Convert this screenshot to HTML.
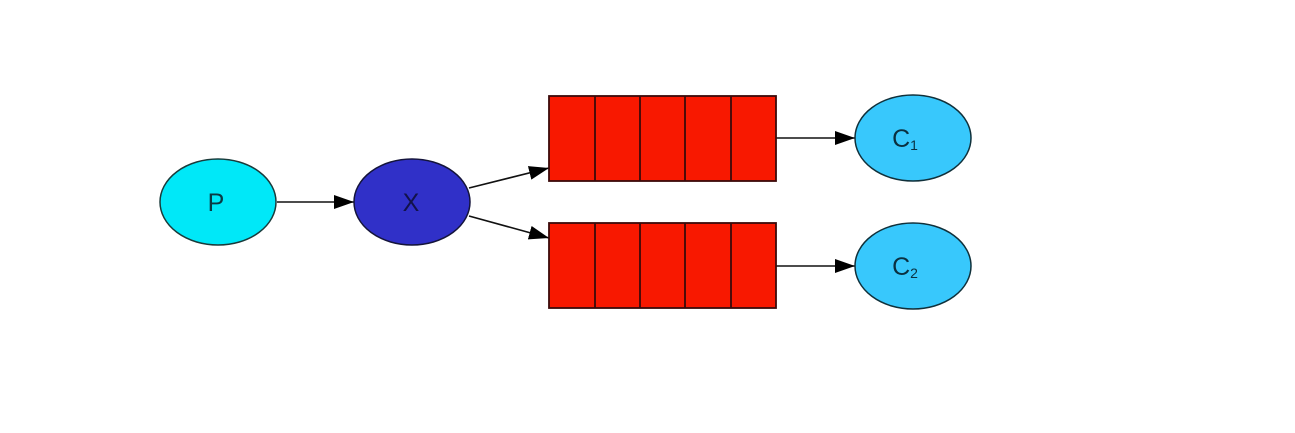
<!DOCTYPE html>
<html><head><meta charset="utf-8"><style>
html,body{margin:0;padding:0;background:#fff;}
svg{display:block;}
text{font-family:"Liberation Sans","DejaVu Sans",sans-serif;}
</style></head><body>
<svg width="1295" height="433" viewBox="0 0 1295 433">
<defs>
<marker id="ah" markerWidth="20" markerHeight="14" refX="20" refY="7" orient="auto" markerUnits="userSpaceOnUse" viewBox="0 0 20 14">
<path d="M0,0 L20,7 L0,14 Z" fill="#000"/>
</marker>
</defs>
<rect width="1295" height="433" fill="#ffffff"/>
<g stroke="#111" stroke-width="1.6" fill="none">
<line x1="277" y1="202" x2="354" y2="202" marker-end="url(#ah)"/>
<line x1="469" y1="188" x2="549" y2="168" marker-end="url(#ah)"/>
<line x1="469" y1="216" x2="549" y2="238" marker-end="url(#ah)"/>
<line x1="776" y1="138" x2="855" y2="138" marker-end="url(#ah)"/>
<line x1="776" y1="266" x2="855" y2="266" marker-end="url(#ah)"/>
</g>
<ellipse cx="218" cy="202" rx="58" ry="43" fill="#00e8f8" stroke="#1a3a3a" stroke-width="1.5"/>
<text x="216" y="211" font-size="25" text-anchor="middle" fill="#0a3a44">P</text>
<ellipse cx="412" cy="202" rx="58" ry="43" fill="#3030c8" stroke="#14143a" stroke-width="1.5"/>
<text x="411" y="211" font-size="25" text-anchor="middle" fill="#12124a">X</text>
<g stroke="#3a0a0a" stroke-width="1.8" fill="#f81800">
<rect x="549" y="96" width="227" height="85"/>
<line x1="595" y1="96" x2="595" y2="181"/><line x1="640" y1="96" x2="640" y2="181"/><line x1="685" y1="96" x2="685" y2="181"/><line x1="731" y1="96" x2="731" y2="181"/>
</g>
<g stroke="#3a0a0a" stroke-width="1.8" fill="#f81800">
<rect x="549" y="223" width="227" height="85"/>
<line x1="595" y1="223" x2="595" y2="308"/><line x1="640" y1="223" x2="640" y2="308"/><line x1="685" y1="223" x2="685" y2="308"/><line x1="731" y1="223" x2="731" y2="308"/>
</g>
<ellipse cx="913" cy="138" rx="58" ry="43" fill="#38c8fc" stroke="#10303a" stroke-width="1.5"/>
<text x="905" y="147" font-size="25" text-anchor="middle" fill="#0a3040">C<tspan font-size="14" dy="3">1</tspan></text>
<ellipse cx="913" cy="266" rx="58" ry="43" fill="#38c8fc" stroke="#10303a" stroke-width="1.5"/>
<text x="905" y="275" font-size="25" text-anchor="middle" fill="#0a3040">C<tspan font-size="14" dy="3">2</tspan></text>
</svg>
</body></html>
